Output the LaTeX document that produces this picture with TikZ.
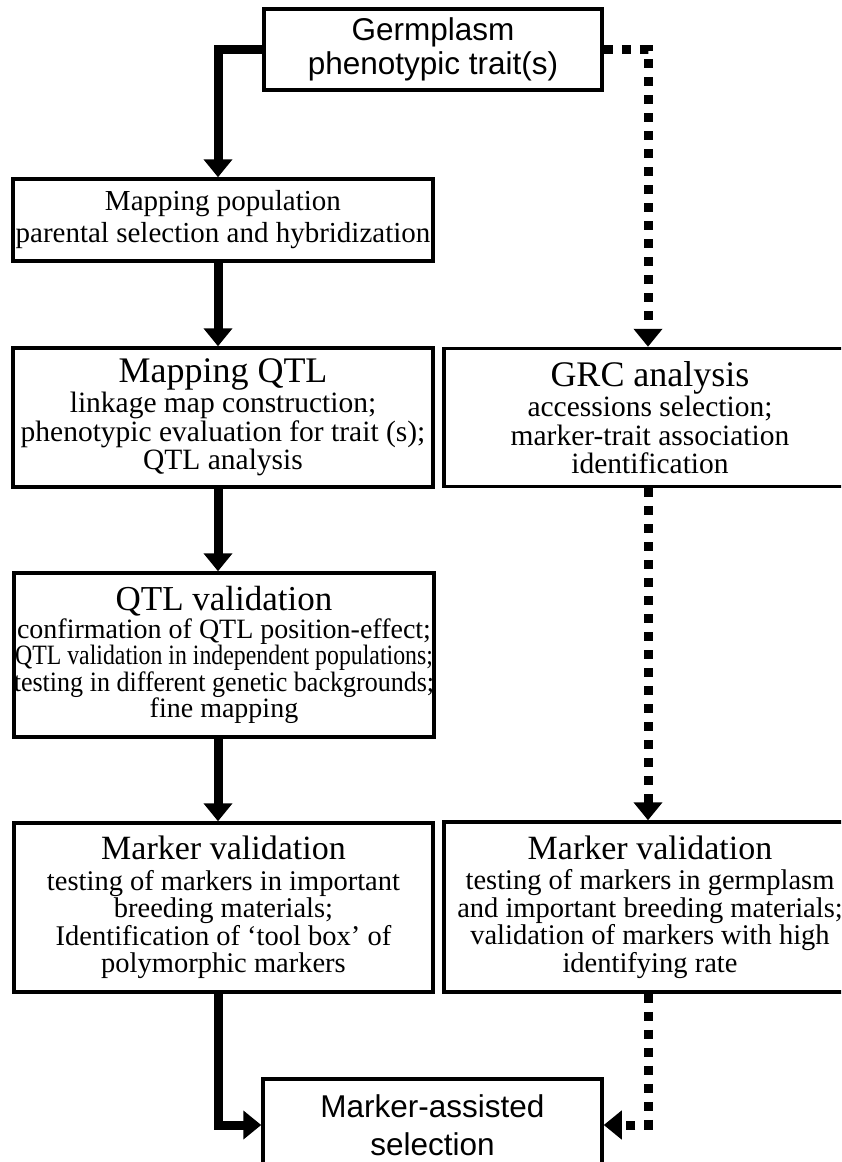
\documentclass[tikz,border=0pt]{standalone}
\usepackage{fontspec}
\setmainfont{Liberation Serif}
\newfontfamily\arialfont{Liberation Sans}
\usetikzlibrary{arrows.meta}
\newcommand{\squeeze}[2]{\scalebox{#1}[1]{#2}}
\newcommand{\boxtitle}[2][34]{{\fontsize{#1}{#1}\selectfont #2}}

\begin{document}
\begin{tikzpicture}[x = 1pt, y = -1pt,
	main/.style = {draw, line width = 3.5pt, inner sep = 0pt, align = center, font = \fontsize{28.5}{27.5}\selectfont},
	head/.style = {main, font = \arialfont\fontsize{31.5}{34}\selectfont},
	link/.style = {line width = 9pt, -{Triangle[width = 28pt, length = 18pt]}},
	dots/.style = {link, dash pattern = on 9pt off 9pt}]
			\useasboundingbox (0,0) rectangle (841,1162);
			\clip (0,0) rectangle (841,1162);
			% boxes
			\node[head, minimum width = 338, minimum height = 81] (1) at (433,49.5) {Germplasm\\phenotypic trait(s)};
			\node[main, minimum width = 420, minimum height = 82, font = \fontsize{29}{32}\selectfont] (2) at (223,220) {Mapping population\\parental selection and hybridization};
			\node[main, minimum width = 420, minimum height = 139, font = \fontsize{29.5}{28.5}\selectfont] (3) at (223,417.5) {\boxtitle[36]{Mapping QTL}\\[2pt]linkage map construction;\\phenotypic evaluation for trait (s);\\QTL analysis};
			\node[main, minimum width = 412, minimum height = 138, font = \fontsize{29.5}{28.5}\selectfont] (4) at (650,417.5) {\boxtitle[36]{GRC analysis}\\[2pt]accessions selection;\\marker-trait association\\identification};
			\node[main, minimum width = 420, minimum height = 164, font = \fontsize{28}{26.5}\selectfont] (5) at (224,655) {\boxtitle[35]{QTL validation}\\[1pt]confirmation of QTL position-effect;\\\squeeze{0.85}{QTL validation in independent populations;}\\\squeeze{0.93}{testing in different genetic backgrounds;}\\fine mapping};
			\node[main, minimum width = 419, minimum height = 169] (6) at (223.5,907.5) {\boxtitle{Marker validation}\\[3pt]testing of markers in important\\breeding materials;\\Identification of ‘tool box’ of\\polymorphic markers};
			\node[main, minimum width = 412, minimum height = 170] (7) at (650,907) {\boxtitle{Marker validation}\\[3pt]testing of markers in germplasm\\and important breeding materials;\\validation of markers with high\\identifying rate};
			\node[head, minimum width = 339, minimum height = 92, font = \arialfont\fontsize{31.5}{38}\selectfont] (8) at (432.5,1125) {Marker-assisted\\selection};
			% lanes of the arrows
			\coordinate (lane) at (218,0);
			\coordinate (dlane) at (648,0);
			\draw[link] (1.west) -| (lane |- 2.north);
			\draw[link] (lane |- 2.south) -- (lane |- 3.north);
			\draw[link] (lane |- 3.south) -- (lane |- 5.north);
			\draw[link] (lane |- 5.south) -- (lane |- 6.north);
			\draw[link] (lane |- 6.south) |- (8.west);
			\draw[dots] (1.east) -| (dlane |- 4.north);
			\draw[dots] (dlane |- 4.south) -- (dlane |- 7.north);
			\draw[dots] (dlane |- 7.south) |- (8.east);
		\end{tikzpicture}
\end{document}
